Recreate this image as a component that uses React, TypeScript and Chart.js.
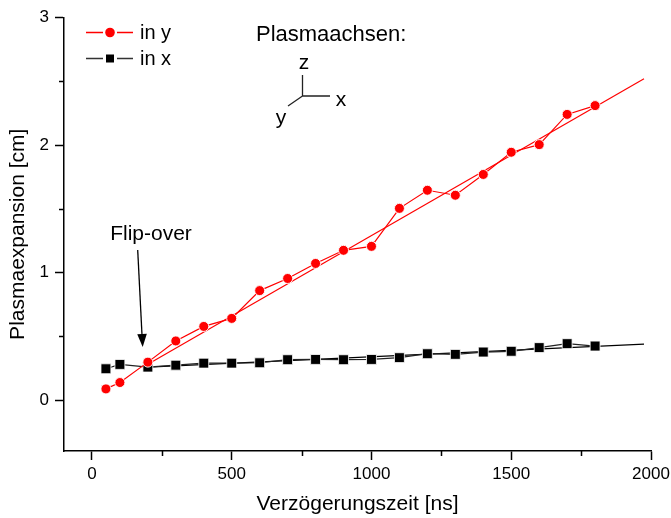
import React, { useEffect, useRef } from "react";
import { Chart, registerables } from "chart.js";

Chart.register(...registerables);

const FONT = "'Liberation Sans', Arial, Helvetica, sans-serif";

// Delay times [ns]
const delays = [50, 100, 200, 300, 400, 500, 600, 700, 800, 900, 1000, 1100, 1200, 1300, 1400, 1500, 1600, 1700, 1800];
// Plasma expansion in y [cm]
const expansionY = [0.087, 0.137, 0.297, 0.463, 0.577, 0.64, 0.858, 0.953, 1.071, 1.174, 1.205, 1.503, 1.645, 1.606, 1.769, 1.943, 2.003, 2.24, 2.309];
// Plasma expansion in x [cm]
const expansionX = [0.245, 0.279, 0.258, 0.273, 0.289, 0.289, 0.292, 0.316, 0.318, 0.316, 0.318, 0.332, 0.363, 0.358, 0.376, 0.382, 0.411, 0.442, 0.423];
// Linear fit lines (start / end)
const fitRange = [200, 1975];
const fitLineY = [0.28, 2.52];
const fitLineX = [0.258, 0.439];

const xMajorTicks = [0, 500, 1000, 1500, 2000];
const xMinorTicks = [250, 750, 1250, 1750];
const yMajorTicks = [0, 1, 2, 3];
const yMinorTicks = [0.5, 1.5, 2.5];

const seriesLabels = ["in y", "in x"];

const annotationPlugin = {
  id: "annotations",
  afterDraw(chart: any) {
    const ctx = chart.ctx as CanvasRenderingContext2D;
    const xs = chart.scales.x;
    const ys = chart.scales.y;
    const area = chart.chartArea;
    ctx.save();
    // minor ticks
    ctx.strokeStyle = "#000";
    ctx.lineWidth = 1.5;
    ctx.beginPath();
    for (const v of xMinorTicks) {
      const px = Math.round(xs.getPixelForValue(v)) + 0.5;
      ctx.moveTo(px, area.bottom);
      ctx.lineTo(px, area.bottom + 5);
    }
    for (const v of yMinorTicks) {
      const py = Math.round(ys.getPixelForValue(v)) + 0.5;
      ctx.moveTo(area.left, py);
      ctx.lineTo(area.left - 5, py);
    }
    ctx.stroke();

    // legend
    const lx = 86, lx2 = 133, mx = 110;
    const rows = [
      { y: 32.5, color: "#ff0000", marker: "circle", label: seriesLabels[0] },
      { y: 58.5, color: "#333333", marker: "rect", label: seriesLabels[1] },
    ];
    ctx.font = `20px ${FONT}`;
    ctx.textBaseline = "middle";
    ctx.textAlign = "left";
    for (const r of rows) {
      ctx.strokeStyle = r.color;
      ctx.lineWidth = 1.3;
      ctx.beginPath();
      ctx.moveTo(lx, r.y);
      ctx.lineTo(mx - 7, r.y);
      ctx.moveTo(mx + 7, r.y);
      ctx.lineTo(lx2, r.y);
      ctx.stroke();
      if (r.marker === "circle") {
        ctx.fillStyle = "#ff0000";
        ctx.beginPath();
        ctx.arc(mx, r.y, 4.8, 0, Math.PI * 2);
        ctx.fill();
      } else {
        ctx.fillStyle = "#000";
        ctx.fillRect(mx - 4, r.y - 4, 8, 8);
      }
      ctx.fillStyle = "#000";
      ctx.fillText(r.label, 140, r.y + 1);
    }

    // Plasmaachsen
    ctx.fillStyle = "#000";
    ctx.font = `22px ${FONT}`;
    ctx.textBaseline = "alphabetic";
    ctx.textAlign = "left";
    ctx.fillText("Plasmaachsen:", 256, 40.5);

    // axis glyph
    ctx.strokeStyle = "#222";
    ctx.lineWidth = 1.3;
    ctx.beginPath();
    ctx.moveTo(302.5, 75);
    ctx.lineTo(302.5, 96);
    ctx.lineTo(330, 96);
    ctx.moveTo(302.5, 96);
    ctx.lineTo(288, 106);
    ctx.stroke();
    ctx.font = `21px ${FONT}`;
    ctx.textAlign = "center";
    ctx.textBaseline = "alphabetic";
    ctx.fillText("z", 304, 69);
    ctx.fillText("x", 341, 105.5);
    ctx.fillText("y", 281, 123.5);

    // Flip-over annotation
    ctx.font = `21px ${FONT}`;
    ctx.textAlign = "center";
    ctx.fillText("Flip-over", 151, 240);
    const ax1 = 137.7, ay1 = 250, ax2 = 142.7, ay2 = 347;
    ctx.strokeStyle = "#000";
    ctx.lineWidth = 1.3;
    ctx.beginPath();
    ctx.moveTo(ax1, ay1);
    ctx.lineTo(ax2 - 0.7, ay2 - 12);
    ctx.stroke();
    const ang = Math.atan2(ay2 - ay1, ax2 - ax1);
    const hl = 13, hw = 4.8;
    ctx.fillStyle = "#000";
    ctx.beginPath();
    ctx.moveTo(ax2, ay2);
    ctx.lineTo(ax2 - hl * Math.cos(ang) + hw * Math.sin(ang), ay2 - hl * Math.sin(ang) - hw * Math.cos(ang));
    ctx.lineTo(ax2 - hl * Math.cos(ang) - hw * Math.sin(ang), ay2 - hl * Math.sin(ang) + hw * Math.cos(ang));
    ctx.closePath();
    ctx.fill();
    ctx.restore();
  },
};

export default function App() {
  const ref = useRef<HTMLCanvasElement | null>(null);
  useEffect(() => {
    if (!ref.current) return;
    const chart = new Chart(ref.current, {
      type: "line",
      data: {
        datasets: [
          {
            label: seriesLabels[0],
            data: delays.map((d, i) => ({ x: d, y: expansionY[i] })),
            borderColor: "#ff0000",
            borderWidth: 1.2,
            pointRadius: 5,
            pointBackgroundColor: "#ff0000",
            pointBorderColor: "rgba(255,255,255,0.9)",
            pointBorderWidth: 1,
            tension: 0,
            order: 1,
          },
          {
            label: seriesLabels[1],
            data: delays.map((d, i) => ({ x: d, y: expansionX[i] })),
            borderColor: "#222222",
            borderWidth: 1.2,
            pointStyle: "rect",
            pointRadius: 7,
            pointBackgroundColor: "#000",
            pointBorderColor: "rgba(255,255,255,0.8)",
            pointBorderWidth: 1,
            tension: 0,
            order: 2,
          },
          {
            label: "fit y",
            data: fitRange.map((d, i) => ({ x: d, y: fitLineY[i] })),
            borderColor: "#ff0000",
            borderWidth: 1.2,
            pointRadius: 0,
            order: 3,
          },
          {
            label: "fit x",
            data: fitRange.map((d, i) => ({ x: d, y: fitLineX[i] })),
            borderColor: "#000",
            borderWidth: 1.2,
            pointRadius: 0,
            order: 4,
          },
        ],
      },
      options: {
        animation: false,
        responsive: false,
        devicePixelRatio: 1,
        layout: { padding: { top: 17.5, right: 20, left: 0, bottom: 0 } },
        plugins: { legend: { display: false }, tooltip: { enabled: false } },
        scales: {
          x: {
            type: "linear",
            min: -100,
            max: 2000,
            afterBuildTicks: (s: any) => {
              s.ticks = xMajorTicks.map((v) => ({ value: v }));
            },
            afterFit: (s: any) => {
              s.height = 67;
              s.paddingLeft = 0;
              s.paddingRight = 0;
            },
            ticks: {
              font: { family: FONT, size: 17 },
              color: "#000",
              padding: 4,
              maxRotation: 0,
              autoSkip: false,
              callback: (v: any) => String(v),
            },
            grid: {
              display: true,
              drawOnChartArea: false,
              drawTicks: true,
              tickLength: 9,
              tickWidth: 1.5,
              tickColor: "#000",
            },
            border: { display: true, color: "#000", width: 1.5 },
            title: {
              display: true,
              text: "Verzögerungszeit [ns]",
              font: { family: FONT, size: 21 },
              color: "#000",
              padding: { top: 0, bottom: 1 },
            },
          },
          y: {
            type: "linear",
            min: -0.4,
            max: 3,
            afterBuildTicks: (s: any) => {
              s.ticks = yMajorTicks.map((v) => ({ value: v }));
            },
            afterFit: (s: any) => {
              s.width = 64;
              s.paddingTop = 0;
              s.paddingBottom = 0;
            },
            ticks: {
              font: { family: FONT, size: 17 },
              color: "#000",
              padding: 6,
              autoSkip: false,
              callback: (v: any) => String(v),
            },
            grid: {
              display: true,
              drawOnChartArea: false,
              drawTicks: true,
              tickLength: 9,
              tickWidth: 1.5,
              tickColor: "#000",
            },
            border: { display: true, color: "#000", width: 1.5 },
            title: {
              display: true,
              text: "Plasmaexpansion [cm]",
              font: { family: FONT, size: 21 },
              color: "#000",
              padding: { top: 5.4, bottom: 0 },
            },
          },
        },
      },
      plugins: [annotationPlugin],
    } as any);
    return () => chart.destroy();
  }, []);
  return (
    <div style={{ position: "fixed", left: 0, top: 0, width: 671, height: 518, background: "#fff" }}>
      <canvas ref={ref} width={671} height={518} style={{ display: "block" }} />
    </div>
  );
}
